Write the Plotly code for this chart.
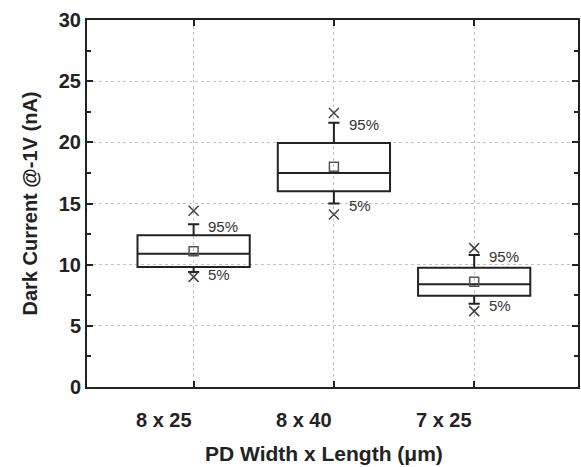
import plotly.graph_objects as go

categories = ["8 x 25", "8 x 40", "7 x 25"]
xpos = [1, 2, 3]
q1 = [9.8, 16.0, 7.45]
median = [10.9, 17.5, 8.4]
q3 = [12.4, 19.95, 9.75]
p5 = [9.4, 15.0, 6.8]
p95 = [13.3, 21.6, 10.8]
means = [11.1, 18.0, 8.6]
mins = [9.0, 14.1, 6.2]
maxs = [14.4, 22.4, 11.35]

FONT = "Liberation Sans"

fig = go.Figure()
fig.add_trace(go.Box(
    x=xpos, q1=q1, median=median, q3=q3, lowerfence=p5, upperfence=p95,
    width=0.8, whiskerwidth=0.1, boxpoints=False,
    line=dict(color="#222222", width=2), fillcolor="rgba(255,255,255,0)",
    hoverinfo="skip", showlegend=False))
fig.add_trace(go.Scatter(
    x=xpos, y=means, mode="markers",
    marker=dict(symbol="square-open", size=9, color="#555555", line=dict(width=1.5)),
    showlegend=False))
fig.add_trace(go.Scatter(
    x=xpos + xpos, y=mins + maxs, mode="markers",
    marker=dict(symbol="x-thin-open", size=10, color="#444444", line=dict(width=1.5)),
    showlegend=False))

for i in range(3):
    fig.add_annotation(x=xpos[i] + 0.09, y=p95[i], text="95%", showarrow=False,
                       xanchor="left", yanchor="middle", yshift=-2,
                       font=dict(family=FONT, size=15, color="#333333"))
    fig.add_annotation(x=xpos[i] + 0.09, y=p5[i], text="5%", showarrow=False,
                       xanchor="left", yanchor="middle", yshift=-2,
                       font=dict(family=FONT, size=15, color="#333333"))
    fig.add_annotation(x=xpos[i], y=0, xref="x", yref="paper", text=categories[i],
                       showarrow=False, xanchor="right", yanchor="middle", yshift=-33,
                       font=dict(family=FONT, size=20, color="#222222", weight="bold"))

fig.add_annotation(x=0.483, y=0, xref="paper", yref="paper", text="PD Width x Length (μm)",
                   showarrow=False, xanchor="center", yanchor="middle", yshift=-66,
                   font=dict(family=FONT, size=21, color="#222222", weight="bold"))

fig.update_xaxes(
    range=[0.24, 3.74], tickvals=xpos, showticklabels=False,
    ticks="inside", ticklen=6, tickwidth=2, tickcolor="#222222",
    showline=True, linecolor="#222222", linewidth=2, mirror="ticks",
    showgrid=True, gridcolor="#c4c4c4", griddash="dot", gridwidth=1,
    zeroline=False)
fig.update_yaxes(
    range=[0, 30], tickvals=[0, 5, 10, 15, 20, 25, 30],
    ticks="inside", ticklen=6, tickwidth=2, tickcolor="#222222",
    minor=dict(ticks="inside", ticklen=4, tickwidth=2, tickcolor="#222222", dtick=2.5, showgrid=False),
    showline=True, linecolor="#222222", linewidth=2, mirror="ticks",
    showgrid=True, gridcolor="#c4c4c4", griddash="dot", gridwidth=1,
    zeroline=False,
    tickfont=dict(family=FONT, size=20, color="#222222", weight="bold"),
    title=dict(text="Dark Current @-1V (nA)", standoff=16,
               font=dict(family=FONT, size=20, color="#222222", weight="bold")))

fig.update_layout(
    width=581, height=467,
    margin=dict(l=87, r=1, t=20, b=80),
    paper_bgcolor="white", plot_bgcolor="white",
    showlegend=False)

fig.write_html("out.html")
